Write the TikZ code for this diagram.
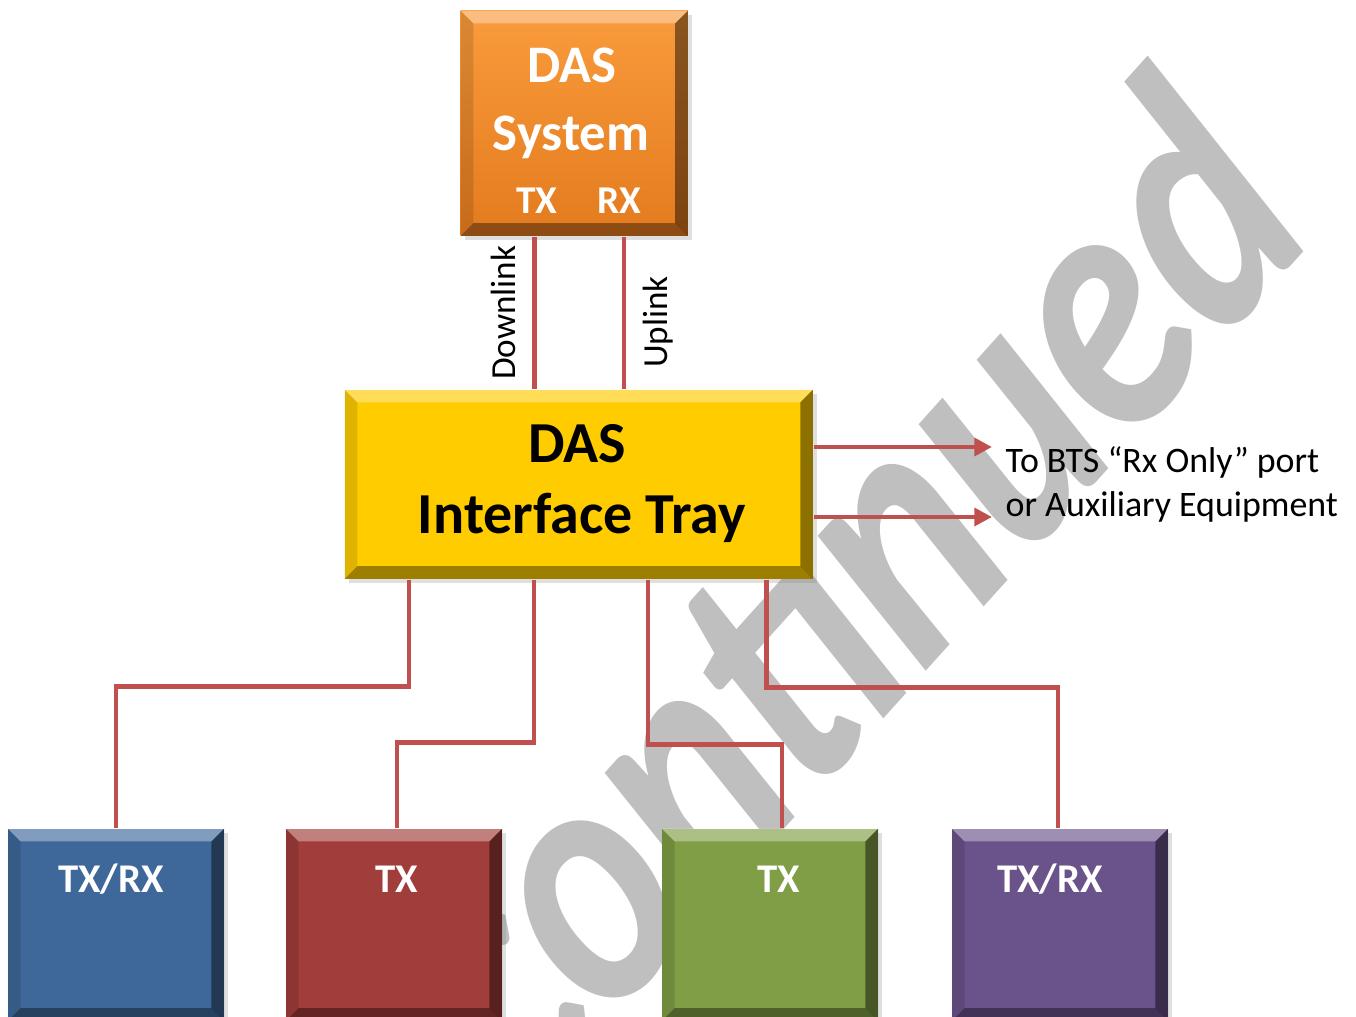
\documentclass[tikz,border=0pt]{standalone}
\usepackage{fontspec}
\setmainfont{Carlito}
\usetikzlibrary{arrows.meta,positioning,shadows}
\definecolor{dasorangetop}{HTML}{F99B3C}
\definecolor{dasorangebot}{HTML}{E37B1E}
\definecolor{trayyellow}{HTML}{FFCC00}
\definecolor{portblue}{HTML}{3E689A}
\definecolor{portred}{HTML}{A13D3A}
\definecolor{portgreen}{HTML}{809E45}
\definecolor{portpurple}{HTML}{6A538A}
\definecolor{linkred}{HTML}{C0504D}
\definecolor{stampgray}{HTML}{BFBFBF}

\tikzset{
    bevel/.style={
        path picture={
            % light top edge
            \fill[white,opacity=0.35] (path picture bounding box.north west) -- (path picture bounding box.north east)
                -- ([xshift=-#1,yshift=-#1]path picture bounding box.north east) -- ([xshift=#1,yshift=-#1]path picture bounding box.north west) -- cycle;
            % left edge
            \fill[black,opacity=0.12] (path picture bounding box.north west) -- ([xshift=#1,yshift=-#1]path picture bounding box.north west)
                -- ([xshift=#1,yshift=#1]path picture bounding box.south west) -- (path picture bounding box.south west) -- cycle;
            % dark right edge
            \fill[black,opacity=0.45] (path picture bounding box.north east) -- ([xshift=-#1,yshift=-#1]path picture bounding box.north east)
                -- ([xshift=-#1,yshift=#1]path picture bounding box.south east) -- (path picture bounding box.south east) -- cycle;
            % dark bottom edge
            \fill[black,opacity=0.38] (path picture bounding box.south west) -- ([xshift=#1,yshift=#1]path picture bounding box.south west)
                -- ([xshift=-#1,yshift=#1]path picture bounding box.south east) -- (path picture bounding box.south east) -- cycle;
        }
    },
    unitbox/.style={
        rectangle,
        inner sep=0pt,
        drop shadow={opacity=0.25,shadow xshift=1.2pt,shadow yshift=-1.2pt},
        bevel=3.6pt
    },
    portbox/.style={
        unitbox,
        anchor=north,
        minimum width=2.16cm,
        minimum height=1.92cm
    },
    boxtext/.style={anchor=base, inner sep=0pt, font=\bfseries\fontsize{15}{18}\selectfont},
    porttext/.style={anchor=base, inner sep=0pt, text=white, font=\bfseries\fontsize{11.6}{14}\selectfont},
    link/.style={draw=linkred, line width=1.3pt},
    linklabel/.style={font=\fontsize{10}{12}\selectfont, inner sep=4.8pt},
    stamp/.style={anchor=base east, inner sep=0pt, text=stampgray, rotate=48, xscale=0.82, xslant=0.08,
        font=\bfseries\itshape\fontsize{100}{100}\selectfont}
}

\begin{document}
\begin{tikzpicture}[x=0.01cm, y=-0.01cm]
    \useasboundingbox (0,0) rectangle (1356,1017);
    \clip (0,0) rectangle (1356,1017);

    % watermark behind everything
    \node[stamp] (stamp) at (1322,232) {Discontinued};

    % === DAS SYSTEM ===
    \node[unitbox, anchor=north west, top color=dasorangetop, bottom color=dasorangebot,
          minimum width=2.27cm, minimum height=2.25cm] (ds) at (460,10) {};
    \node[boxtext, text=white] (dsdas) at (572,82) {DAS};
    \node[boxtext, text=white] (dssys) at (571,150) {System};
    \node[porttext, font=\bfseries\fontsize{11.2}{14}\selectfont] (dstx) at (537,213) {TX};
    \node[porttext, font=\bfseries\fontsize{11.2}{14}\selectfont] (dsrx) at (619,213) {RX};

    % === INTERFACE TRAY ===
    \node[unitbox, anchor=north west, fill=trayyellow,
          minimum width=4.68cm, minimum height=1.89cm] (tray) at (344,389) {};
    \node[boxtext, font=\bfseries\fontsize{16.5}{20}\selectfont] (traydas) at (577,462) {DAS};
    \node[boxtext, font=\bfseries\fontsize{16.5}{20}\selectfont] (traytitle) at (582,533) {Interface Tray};

    % uplink / downlink
    \draw[link] ([xshift=-0.395cm]ds.south |- tray.north) -- node[above, sloped, linklabel] {Downlink} ([xshift=-0.395cm]ds.south);
    \draw[link] ([xshift=0.495cm]ds.south |- tray.north) -- node[pos=0.44, below, sloped, linklabel] {Uplink} ([xshift=0.495cm]ds.south);

    % === RX ONLY OUTPUTS ===
    \coordinate (bts1) at (992,447);
    \coordinate (bts2) at (992,517);
    \draw[link, -{Triangle[length=5pt,width=5pt]}] (tray.east |- bts1) -- (bts1);
    \draw[link, -{Triangle[length=5pt,width=5pt]}] (tray.east |- bts2) -- (bts2);
    \node[anchor=west, align=left, inner sep=0pt, font=\fontsize{10.2}{12.5}\selectfont] (btsnote) at (1005,484)
        {To BTS “Rx Only” port\\or Auxiliary Equipment};

    % === ANTENNA PORTS ===
    \node[portbox, fill=portblue]   (pblue)   at (116,828) {};
    \node[portbox, fill=portred]    (pred)    at (394,828) {};
    \node[portbox, fill=portgreen]  (pgreen)  at (770,828) {};
    \node[portbox, fill=portpurple] (ppurple) at (1060,828) {};

    \node[porttext] (tblue)   at (111,892)  {TX/RX};
    \node[porttext] (tred)    at (397,892)  {TX};
    \node[porttext] (tgreen)  at (779,892)  {TX};
    \node[porttext] (tpurple) at (1050,892) {TX/RX};

    % tray to ports
    \draw[link] ([xshift=0.65cm]tray.south west) -- ++(0,107) -| (pblue.north);
    \draw[link] ([xshift=1.90cm]tray.south west) -- ++(0,163) -| ([xshift=0.03cm]pred.north);
    \draw[link] ([xshift=3.04cm]tray.south west) -- ++(0,165) -| ([xshift=0.12cm]pgreen.north);
    \draw[link] ([xshift=4.22cm]tray.south west) -- ++(0,108) -| ([xshift=-0.02cm]ppurple.north);
\end{tikzpicture}
\end{document}
